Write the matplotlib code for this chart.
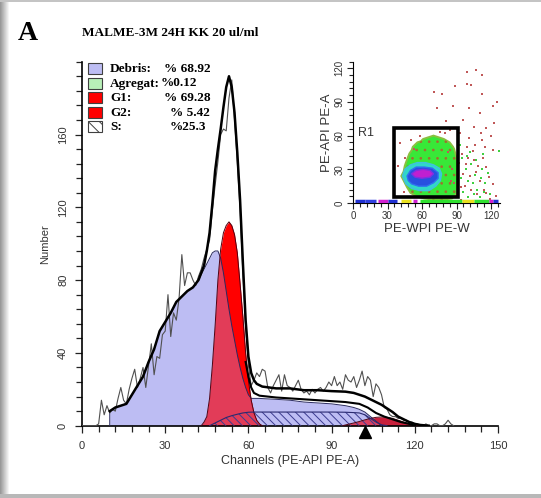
import matplotlib
matplotlib.use('Agg')
import matplotlib.pyplot as plt
from matplotlib.patches import Rectangle, Polygon
from matplotlib.ticker import MultipleLocator

plt.rcParams['font.family'] = ['Liberation Sans', 'DejaVu Sans']
plt.rcParams['hatch.linewidth'] = 0.7

# ---- cell cycle model components (channel, count) ----
deb_x = [10, 10, 12, 14, 16, 18, 20, 22, 24, 26, 28, 30, 32, 34, 36, 38, 40, 42, 44, 46, 47, 48, 49,
         50, 51, 52, 53, 54, 55, 56, 57, 58, 59, 60, 61, 62, 64, 66, 70, 75, 80, 85, 90, 95, 98,
         100, 102, 104, 106, 108]
deb_y = [0, 8, 10, 11, 12, 17, 22, 27, 35, 42, 52, 57, 62, 68, 71, 74, 76, 80, 86, 92, 95, 96, 96,
         92, 84, 74, 64, 55, 47, 39, 32, 26, 21, 17, 15, 15, 15, 14.8, 14.5, 14, 13, 12.5, 12, 11, 10,
         9, 7.5, 5, 2.5, 0]

g1_x = [43, 44, 45, 46, 47, 48, 49, 50, 51, 52, 53, 54, 55, 56, 57, 58, 59, 60, 61, 62, 63, 64, 65]
g1_y = [0, 2, 5, 15, 33, 55, 80, 97, 106, 110, 112, 110, 105, 95, 78, 60, 40, 25, 14, 7, 3, 1, 0]

s_x = [46, 48, 50, 52, 54, 56, 58, 60, 62, 70, 80, 90, 95, 98, 100, 102, 104, 106, 108, 110]
s_y = [0, 1.5, 3, 4.5, 5.5, 6.3, 7, 7.4, 7.5, 7.5, 7.5, 7.5, 7.4, 7.2, 7, 6, 4, 2, 0.5, 0]

g2_x = [94, 96, 98, 100, 102, 104, 106, 108, 110, 112, 114, 116, 118, 120, 122]
g2_y = [0, 0.8, 1.5, 2.3, 3.2, 4, 4.6, 4.8, 4.6, 4, 3, 2, 1, 0.3, 0]

fit_x = [10, 12, 14, 16, 18, 20, 22, 24, 26, 28, 30, 32, 34, 36, 38, 40, 42, 44, 45, 46, 47, 48, 49,
         50, 51, 52, 53, 54, 55, 56, 57, 58, 59, 60, 61, 62, 63, 65, 70, 75, 80, 85, 90, 95, 98,
         100, 102, 104, 106, 108, 110, 112, 114, 116, 118, 120, 122, 125]
fit_y = [8, 10, 11, 12, 17, 22, 27, 35, 42, 52, 57, 62, 68, 71, 74, 76, 80, 88, 96, 106, 122, 140, 152,
         163, 175, 186, 192, 186, 172, 150, 124, 90, 58, 38, 29, 25, 23, 21.5, 20.5, 20.5, 19.5, 19.5,
         19, 18.7, 18, 17, 16, 14.5, 13, 11.5, 9.5, 7.5, 5, 3.5, 2, 1, 0.4, 0]

fit2_x = [59, 60, 61, 62, 64, 70, 80, 90, 95, 100, 103, 106, 109, 112, 115, 118, 120]
fit2_y = [35, 27, 21, 18, 16.5, 15.5, 14.5, 13.5, 13, 12, 10, 7, 5, 3.5, 2, 1, 0]

# raw histogram, one value per channel starting at channel 0
raw_y = [0, 0, 0, 0, 0, 0, 1, 14, 6, 11, 7, 9, 8, 15, 21, 14, 12, 20, 26, 31,
         21, 26, 32, 21, 33, 45, 28, 38, 37, 50, 52, 72, 49, 62, 58, 70, 94, 77, 84, 84,
         80, 77, 82, 86, 92, 97, 102, 118, 132, 145, 160, 163, 162, 180, 190, 168, 145, 118, 84, 55,
         33, 22, 25, 29, 27, 31, 30, 21, 18, 22, 25, 28, 19, 28, 22, 21, 19, 22, 25, 20,
         18, 19, 17, 20, 18, 20, 21, 19, 21, 24, 22, 27, 22, 24, 20, 28, 25, 24, 27, 21,
         25, 30, 22, 27, 25, 16, 23, 21, 17, 10, 9, 6, 5, 5, 4, 4, 3, 3, 2, 2,
         1, 1, 0, 0, 1, 0, 0, 1, 1, 0, 0, 1, 3, 1, 0]
raw_x = list(range(len(raw_y)))

legend_names = ['Debris:', 'Agregat:', 'G1:', 'G2:', 'S:']
legend_values = ['% 68.92', '%0.12', '% 69.28', '% 5.42', '%25.3']

# ---- dot plot (PE-W vs PE-A) ----
green_poly = [(44, 28), (45, 33), (46, 36), (49, 44), (51, 47), (52, 50), (56, 54), (59, 55), (61, 57),
              (64, 58), (67, 59), (70, 60), (73, 59), (76, 58), (79, 57), (84, 54), (87, 50), (88, 48),
              (90, 40), (91, 30), (91, 18), (90, 8), (86, 4), (78, 3), (70, 3), (62, 4), (55, 6),
              (50, 9), (47, 14), (44, 20), (42, 24)]
cyan_poly = [(43, 24), (45, 30), (50, 34), (56, 36), (63, 36), (70, 34), (75, 31), (77, 26), (76, 20),
             (72, 15), (66, 11), (58, 11), (51, 13), (46, 17)]
blue_poly = [(47, 24), (50, 29), (55, 32), (62, 32), (69, 31), (74, 27), (74, 22), (70, 18), (64, 15),
             (57, 15), (51, 17), (48, 20)]
magenta_poly = [(51, 26), (55, 29), (61, 30), (67, 29), (70, 26), (67, 23), (60, 22), (54, 23)]

red_x = [99, 107, 112, 89, 99, 103, 70, 77, 112, 125, 73, 87, 101, 122, 81, 96, 110, 116, 105, 123,
         93, 112, 99, 122, 105, 116, 96, 110, 122, 103, 124, 116, 90, 50, 41, 47, 44, 58, 84, 86,
         95, 98, 101, 104, 107, 113, 118, 120, 94, 108, 115, 88, 92, 80, 76, 97, 102, 109, 114, 119,
         45, 53, 39, 85, 83, 91, 94, 106, 111, 100]
red_y = [117, 118, 114, 104, 106, 105, 99, 97, 97, 90, 85, 86, 85, 86, 73, 74, 80, 67, 68, 71,
         62, 56, 50, 47, 38, 32, 26, 20, 17, 12, 6, 9, 6, 56, 53, 20, 10, 60, 65, 30,
         44, 35, 58, 46, 28, 40, 23, 60, 14, 8, 50, 18, 36, 62, 63, 15, 24, 33, 12, 4,
         40, 48, 33, 20, 45, 55, 3, 52, 62, 40]
green_x = [95, 98, 100, 103, 106, 108, 112, 96, 110, 115, 119, 102, 127, 93, 100, 105, 113, 117,
           94, 97, 99, 104, 107, 111, 114]
green_y = [40, 30, 20, 35, 25, 12, 30, 10, 5, 18, 8, 45, 46, 52, 5, 8, 44, 27,
           22, 15, 42, 18, 38, 22, 10]
strip = [(2, 10, '#2030d0'), (10, 20, '#3040e0'), (22, 30, '#d020d0'), (30, 38, '#2030d0'),
         (42, 50, '#e8e020'), (52, 56, '#d020d0'), (58, 95, '#30e030'), (95, 105, '#e8e020'),
         (105, 118, '#30e030'), (118, 122, '#d020d0'), (122, 126, '#2030d0')]
gate = (35.6, 5, 91, 67)

W, H = 541, 498
fig = plt.figure(figsize=(W / 100, H / 100), dpi=100)
fig.patch.set_facecolor('white')


def fpos(px, py):
    return px / W, 1 - py / H


# card shadow
for i in range(9):
    g = 0.60 + 0.045 * i
    fig.add_artist(Rectangle((i / W, 0), 1 / W, 1, transform=fig.transFigure,
                             color=(g, g, g), lw=0, zorder=-5))
fig.add_artist(Rectangle((0, 1 - 2 / H), 1, 2 / H, transform=fig.transFigure,
                         color='#c4c4c4', lw=0, zorder=-5))
fig.add_artist(Rectangle((0, 0), 1, 4 / H, transform=fig.transFigure,
                         color='#b8b8b8', lw=0, zorder=-5))

# ---- main histogram ----
ax = fig.add_axes([82 / W, 1 - 425.7 / H, (498 - 82) / W, (425.7 - 61.7) / H])
ax.set_facecolor('none')
lav = '#bdbdf3'
deb = ax.fill_between(deb_x, deb_y, color=lav, lw=0, zorder=1)
ax.plot(deb_x, deb_y, color='#2a2a60', lw=0.7, zorder=4)

g1 = ax.fill_between(g1_x, g1_y, color='#ff0000', lw=0, zorder=2)
g1_in = ax.fill_between(g1_x, g1_y, color='#e23c58', lw=0, zorder=2.1)
g1_in.set_clip_path(deb.get_paths()[0], ax.transData)
ax.plot(g1_x, g1_y, color='#500010', lw=0.7, zorder=4)

g2 = ax.fill_between(g2_x, g2_y, color='#c8203c', lw=0, zorder=2)
g2_in = ax.fill_between(g2_x, g2_y, color='#d84060', lw=0, zorder=2.1)
g2_in.set_clip_path(deb.get_paths()[0], ax.transData)
ax.plot(g2_x, g2_y, color='#500010', lw=0.7, zorder=4)

ax.fill_between(s_x, s_y, facecolor='none', hatch='\\\\\\\\', edgecolor='#3c3c90', lw=0, zorder=3)
ax.plot(s_x, s_y, color='#2a2a70', lw=0.8, zorder=4)

ax.plot(raw_x, raw_y, color='#505050', lw=0.8, zorder=5)
ax.plot(fit2_x, fit2_y, color='black', lw=1.5, zorder=6)
ax.plot(fit_x, fit_y, color='black', lw=1.8, zorder=6)
ax.plot(102, -3.4, marker='^', ms=8, color='black', clip_on=False, zorder=7)

ax.set_xlim(0, 150)
ax.set_ylim(0, 200)
ax.set_xticks(range(0, 151, 30))
ax.set_yticks(range(0, 161, 40))
ax.xaxis.set_minor_locator(MultipleLocator(6))
ax.yaxis.set_minor_locator(MultipleLocator(8))
ax.tick_params(which='both', direction='out', width=0.9, color='#222222', labelsize=8,
               labelcolor='#333333')
ax.tick_params(which='major', length=5)
ax.tick_params(which='minor', length=4)
ax.tick_params(axis='x', pad=6)
ax.tick_params(axis='y', labelrotation=90, pad=5)
for lab in ax.get_yticklabels():
    lab.set_va('center')
for side in ['top', 'right']:
    ax.spines[side].set_visible(False)
for side in ['left', 'bottom']:
    ax.spines[side].set_linewidth(1.2)
ax.set_xlabel('Channels (PE-API PE-A)', fontsize=9, color='#333333', labelpad=3)
ax.set_ylabel('Number', fontsize=8, color='#333333', labelpad=6)

# ---- dot plot inset ----
ax2 = fig.add_axes([353 / W, 1 - 203 / H, 1.15 * 128 / W, 1.123 * 126 / H])
ax2.set_facecolor('none')
ax2.add_patch(Polygon(green_poly, closed=True, facecolor='#38e838', edgecolor='#8ac040', lw=1.4, zorder=2))
# speckled brown events inside the main population
ax2.add_patch(Polygon(green_poly, closed=True, facecolor='none', edgecolor='#a07030',
                      hatch='..', lw=0, zorder=2.2))
ax2.add_patch(Polygon(cyan_poly, closed=True, facecolor='#30d8c8', edgecolor='#40c0e0', lw=1, zorder=3))
ax2.add_patch(Polygon(blue_poly, closed=True, facecolor='#2850e0', edgecolor='#3070f0', lw=1, zorder=4))
ax2.add_patch(Polygon(magenta_poly, closed=True, facecolor='#c020d0', edgecolor='#8030e0', lw=1, zorder=5))
ax2.scatter(green_x, green_y, s=2.5, marker='s', color='#40d040', lw=0, zorder=2)
ax2.scatter(red_x, red_y, s=2, marker='s', color='#c05858', lw=0, zorder=2.5)
for x0, x1, c in strip:
    ax2.plot([x0, x1], [1.5, 1.5], color=c, lw=2.5, solid_capstyle='butt', zorder=3)
gx0, gy0, gx1, gy1 = gate
ax2.add_patch(Rectangle((gx0, gy0), gx1 - gx0, gy1 - gy0, fill=False, edgecolor='black', lw=2.6, zorder=6))
ax2.text(4, 62, 'R1', fontsize=9, color='#333333', va='center', ha='left')

ax2.set_xlim(0, 128)
ax2.set_ylim(0, 126)
ax2.set_xticks(range(0, 121, 30))
ax2.set_yticks(range(0, 121, 30))
ax2.xaxis.set_minor_locator(MultipleLocator(6))
ax2.yaxis.set_minor_locator(MultipleLocator(6))
ax2.tick_params(which='both', direction='out', width=0.8, color='#222222', labelsize=7,
                labelcolor='#333333', pad=2)
ax2.tick_params(which='major', length=4)
ax2.tick_params(which='minor', length=3)
ax2.tick_params(axis='y', labelrotation=90)
for lab in ax2.get_yticklabels():
    lab.set_va('center')
for side in ['top', 'right']:
    ax2.spines[side].set_visible(False)
ax2.set_xlabel('PE-WPI PE-W', fontsize=9.5, color='#333333', labelpad=1)
ax2.set_ylabel('PE-API PE-A', fontsize=9.5, color='#333333', labelpad=1)

# ---- headings and legend ----
fig.text(*fpos(18, 40), 'A', fontsize=20, fontweight='bold', family='Liberation Serif',
         ha='left', va='baseline')
fig.text(*fpos(82, 33), 'MALME-3M 24H KK 20 ul/ml', fontsize=9.5, fontweight='bold',
         family='Liberation Serif', ha='left', va='center')

box_colors = [lav, '#b8f0b8', '#ff0000', '#ff0000', 'white']
row_y = [69, 83.5, 98, 112.5, 127]
value_x = [164, 161, 164, 170, 170]
for name, val, c, yc, vx in zip(legend_names, legend_values, box_colors, row_y, value_x):
    bx, by = fpos(88, yc + 5.5)
    fig.add_artist(Rectangle((bx, by), 14 / W, 11 / H, transform=fig.transFigure,
                             facecolor=c, edgecolor='#404040', lw=0.8,
                             hatch='\\\\\\' if name == 'S:' else None))
    fig.text(*fpos(110, yc), name, fontsize=9.5, fontweight='bold', family='Liberation Serif',
             ha='left', va='center')
    fig.text(*fpos(vx, yc), val, fontsize=9.5, fontweight='bold', family='Liberation Serif',
             ha='left', va='center')

fig.savefig('out.png', dpi=100)
